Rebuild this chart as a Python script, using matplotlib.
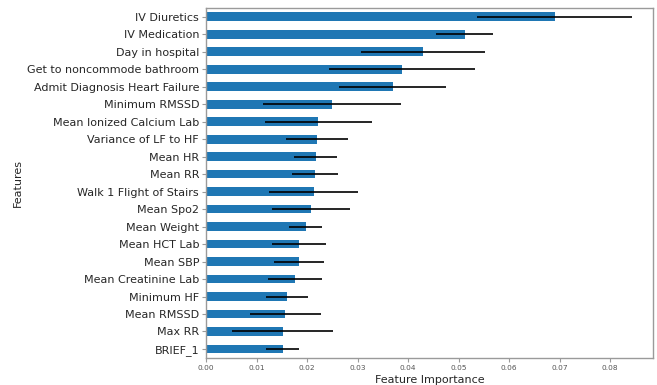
import matplotlib
matplotlib.use("Agg")
import matplotlib.pyplot as plt
import numpy as np

features = [
    "IV Diuretics", "IV Medication", "Day in hospital", "Get to noncommode bathroom",
    "Admit Diagnosis Heart Failure", "Minimum RMSSD", "Mean Ionized Calcium Lab",
    "Variance of LF to HF", "Mean HR", "Mean RR", "Walk 1 Flight of Stairs",
    "Mean Spo2", "Mean Weight", "Mean HCT Lab", "Mean SBP", "Mean Creatinine Lab",
    "Minimum HF", "Mean RMSSD", "Max RR", "BRIEF_1",
]
importance = [
    0.0690, 0.0512, 0.0430, 0.0388, 0.0370, 0.0250, 0.0222, 0.0220, 0.0217, 0.0216,
    0.0213, 0.0208, 0.0197, 0.0184, 0.0184, 0.0176, 0.0160, 0.0157, 0.0152, 0.0152,
]
importance_std = [
    0.0153, 0.0056, 0.0123, 0.0144, 0.0106, 0.0137, 0.0106, 0.0061, 0.0043, 0.0046,
    0.0088, 0.0078, 0.0033, 0.0053, 0.0049, 0.0053, 0.0041, 0.0070, 0.0100, 0.0033,
]
x_ticks = [0.00, 0.01, 0.02, 0.03, 0.04, 0.05, 0.06, 0.07, 0.08]

text_color = "#262626"
spine_color = "#9a9a9a"

fig = plt.figure(figsize=(6.57, 3.85), dpi=100)
ax = fig.add_axes([206 / 657, 1 - 357.7 / 385, (653 - 206) / 657, (357.7 - 8) / 385])

pos = np.arange(len(features))[::-1]
ax.barh(pos, importance, height=0.5, color="#1f77b4",
        xerr=importance_std, error_kw=dict(ecolor="black", elinewidth=1.2, capsize=0))

ax.set_ylim(-0.5, len(features) - 0.5)
ax.set_xlim(0, 0.0885)
ax.set_yticks(pos)
ax.set_yticklabels(features, fontsize=8.0, color=text_color)
ax.set_xticks(x_ticks)
ax.set_xticklabels([f"{t:.2f}" for t in x_ticks], fontsize=5.3, color="#555555")
ax.tick_params(axis="both", colors=spine_color, length=3, width=0.8)
ax.tick_params(axis="y", pad=2)
ax.tick_params(axis="x", pad=2)
for lbl in ax.get_yticklabels():
    lbl.set_color(text_color)
for lbl in ax.get_xticklabels():
    lbl.set_color("#555555")
for s in ax.spines.values():
    s.set_color(spine_color)
    s.set_linewidth(1.0)

ax.set_xlabel("Feature Importance", fontsize=8.0, color=text_color, va="center")
ax.set_ylabel("Features", fontsize=8.0, color=text_color, va="center")
ax.xaxis.set_label_coords((430 - 206) / 447, (357.7 - 380) / 349.7)
ax.yaxis.set_label_coords((18 - 206) / 447, (357.7 - 183) / 349.7)

fig.savefig("out.png", dpi=100)
